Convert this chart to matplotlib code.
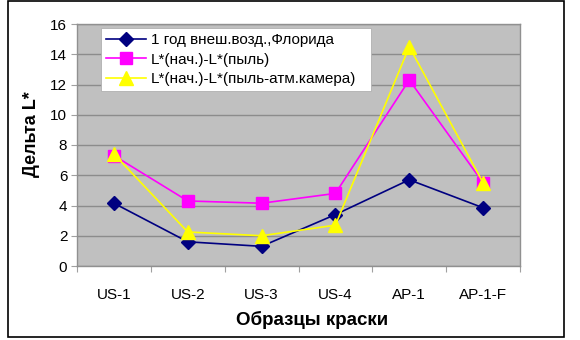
import matplotlib
matplotlib.use("Agg")
import matplotlib.pyplot as plt
from matplotlib.patches import Rectangle

plt.rcParams['font.family'] = ['Liberation Sans', 'DejaVu Sans']

categories = ["US-1", "US-2", "US-3", "US-4", "AP-1", "AP-1-F"]
florida = [4.15, 1.6, 1.3, 3.4, 5.7, 3.85]
dust = [7.3, 4.3, 4.15, 4.8, 12.3, 5.5]
dust_chamber = [7.4, 2.25, 2.0, 2.7, 14.5, 5.5]
labels = ["1 год внеш.возд.,Флорида", "L*(нач.)-L*(пыль)", "L*(нач.)-L*(пыль-атм.камера)"]
yticks = [0, 2, 4, 6, 8, 10, 12, 14, 16]

W, H = 580, 340
fig = plt.figure(figsize=(W / 100, H / 100), dpi=100)
fig.patch.set_facecolor("white")

# outer frame
fig.patches.append(Rectangle((8 / W, 1 - 337 / H), (564 - 8) / W, (337 - 1) / H,
                             transform=fig.transFigure, fill=False,
                             edgecolor="black", linewidth=1.2, zorder=0))

ax = fig.add_axes([77 / W, 1 - 266 / H, (520 - 77) / W, (266 - 24) / H])
ax.set_facecolor("#C0C0C0")
x = list(range(len(categories)))

ax.plot(x, florida, color="#000080", marker="D", markersize=7, linewidth=1.2,
        markerfacecolor="#000080", markeredgecolor="#000080", label=labels[0], zorder=3)
ax.plot(x, dust, color="#FF00FF", marker="s", markersize=8, linewidth=1.2,
        markerfacecolor="#FF00FF", markeredgecolor="#FF00FF", label=labels[1], zorder=3)
ax.plot(x, dust_chamber, color="#FFFF00", marker="^", markersize=10, linewidth=1.2,
        markerfacecolor="#FFFF00", markeredgecolor="#FFFF00", label=labels[2], zorder=4)

ax.set_xlim(-0.5, len(categories) - 0.5)
ax.set_ylim(0, 16)
ax.set_yticks(yticks)
ax.set_yticklabels([str(v) for v in yticks], fontsize=11)
ax.yaxis.grid(True, color="#8C8C8C", linewidth=1.0)
ax.set_axisbelow(True)
ax.set_xticks([i + 0.5 for i in range(-1, len(categories))])
ax.set_xticklabels([])
ax.set_xticks(x, minor=True)
ax.set_xticklabels(categories, minor=True, fontsize=11)
ax.tick_params(axis="x", which="major", length=4, color="#A0A0A0", direction="out")
ax.tick_params(axis="x", which="minor", length=0, pad=16)
ax.tick_params(axis="y", length=4, color="#A0A0A0", pad=3)
for s in ax.spines.values():
    s.set_color("#909090")
    s.set_linewidth(1.0)

ax.set_xlabel("Образцы краски", fontsize=13.5, fontweight="bold")
ax.set_ylabel("Дельта L*", fontsize=13, fontweight="bold")
ax.xaxis.set_label_coords((312 - 77) / (520 - 77), -(320 - 266) / (266 - 24))
ax.xaxis.label.set_va("center")
ax.yaxis.set_label_coords(-(77 - 31) / (520 - 77), (266 - 134) / (266 - 24))
ax.yaxis.label.set_va("center")

lx0 = (101 - 77) / (520 - 77)
lw = (371 - 101) / (520 - 77)
ltop = 1 - (28 - 24) / (266 - 24)
leg = ax.legend(loc="upper left", bbox_to_anchor=(lx0, 0, lw, ltop), mode="expand",
                frameon=True, fancybox=False, fontsize=11, borderpad=0.35,
                labelspacing=0.35, handlelength=2.6, handletextpad=0.3, borderaxespad=0)
leg.get_frame().set_facecolor("white")
leg.get_frame().set_edgecolor("#B0B0B0")
leg.get_frame().set_linewidth(0.6)
leg.get_frame().set_alpha(1)

fig.savefig("out.png", dpi=100, facecolor="white")
